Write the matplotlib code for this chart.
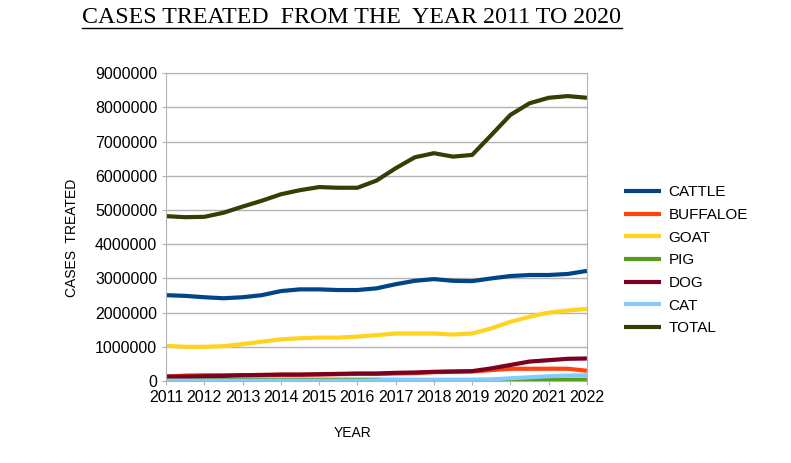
import matplotlib.pyplot as plt
from matplotlib.lines import Line2D

plt.rcParams['font.family'] = ['Liberation Sans', 'DejaVu Sans']

years = [2011, 2011.5, 2012, 2012.5, 2013, 2013.5, 2014, 2014.5, 2015, 2015.5,
         2016, 2016.5, 2017, 2017.5, 2018, 2018.5, 2019, 2019.5, 2020, 2020.5,
         2021, 2021.5, 2022]

cattle = [2.51, 2.49, 2.45, 2.42, 2.45, 2.51, 2.63, 2.68, 2.68, 2.66, 2.66, 2.71,
          2.83, 2.93, 2.98, 2.93, 2.92, 3.00, 3.07, 3.10, 3.10, 3.13, 3.22]
buffaloe = [0.13, 0.16, 0.17, 0.17, 0.17, 0.17, 0.18, 0.18, 0.19, 0.20, 0.21, 0.21,
            0.22, 0.23, 0.26, 0.27, 0.28, 0.32, 0.36, 0.36, 0.36, 0.36, 0.30]
goat = [1.03, 1.00, 1.00, 1.02, 1.08, 1.15, 1.22, 1.25, 1.27, 1.27, 1.30, 1.34,
        1.39, 1.39, 1.39, 1.36, 1.39, 1.54, 1.73, 1.88, 2.00, 2.06, 2.11]
pig = [0.03, 0.03, 0.03, 0.03, 0.04, 0.04, 0.04, 0.04, 0.04, 0.04, 0.04, 0.04,
       0.03, 0.02, 0.01, 0.01, 0.01, 0.01, 0.02, 0.03, 0.04, 0.04, 0.04]
dog = [0.13, 0.13, 0.14, 0.15, 0.17, 0.18, 0.19, 0.19, 0.20, 0.21, 0.22, 0.22,
       0.24, 0.25, 0.27, 0.28, 0.29, 0.37, 0.47, 0.57, 0.61, 0.65, 0.66]
cat = [0.01, 0.01, 0.01, 0.01, 0.01, 0.01, 0.01, 0.01, 0.01, 0.01, 0.01, 0.02,
       0.04, 0.04, 0.04, 0.04, 0.04, 0.05, 0.08, 0.11, 0.14, 0.16, 0.17]
total = [4.82, 4.79, 4.80, 4.92, 5.10, 5.27, 5.46, 5.58, 5.67, 5.65, 5.65, 5.86,
         6.22, 6.54, 6.66, 6.56, 6.61, 7.19, 7.78, 8.12, 8.28, 8.33, 8.28]

series = [("CATTLE", cattle, "#004586"),
          ("BUFFALOE", buffaloe, "#ff420e"),
          ("GOAT", goat, "#ffd320"),
          ("PIG", pig, "#579d1c"),
          ("DOG", dog, "#7e0021"),
          ("CAT", cat, "#83caff"),
          ("TOTAL", total, "#314004")]

fig = plt.figure(figsize=(7.91, 4.63), dpi=100)
ax = fig.add_axes([0.21, 0.177, 0.532, 0.665])

for name, vals, col in series:
    ax.plot(years, [v * 1e6 for v in vals], color=col, lw=3, label=name,
            solid_capstyle='butt', solid_joinstyle='round')

ax.set_xlim(2011, 2022)
ax.set_ylim(0, 9000000)
ax.set_xticks(range(2011, 2023))
ax.set_yticks(range(0, 9000001, 1000000))
ax.set_yticklabels([str(v) for v in range(0, 9000001, 1000000)])
ax.grid(axis='y', color='#b3b3b3', lw=1)
ax.set_axisbelow(True)
for s in ax.spines.values():
    s.set_color('#b3b3b3')
ax.tick_params(colors='#b3b3b3', labelcolor='black', labelsize=11.5, length=3)

ax.set_xlabel("YEAR", fontsize=10)
ax.xaxis.set_label_coords(0.442, -0.147)
ax.set_ylabel("CASES  TREATED", fontsize=10)
ax.yaxis.set_label_coords(-0.206, 0.464)

ax.legend(loc='center left', bbox_to_anchor=(1.056, 0.392), frameon=False,
          fontsize=11, handlelength=2.4, labelspacing=0.57, handletextpad=0.5)

fig.text(0.445, 0.963, "CASES TREATED  FROM THE  YEAR 2011 TO 2020",
         ha='center', va='center', fontsize=17.2, family='Liberation Serif')
fig.add_artist(Line2D([0.104, 0.786], [0.94, 0.94], color='black', lw=1))

fig.savefig("out.png", dpi=100)
